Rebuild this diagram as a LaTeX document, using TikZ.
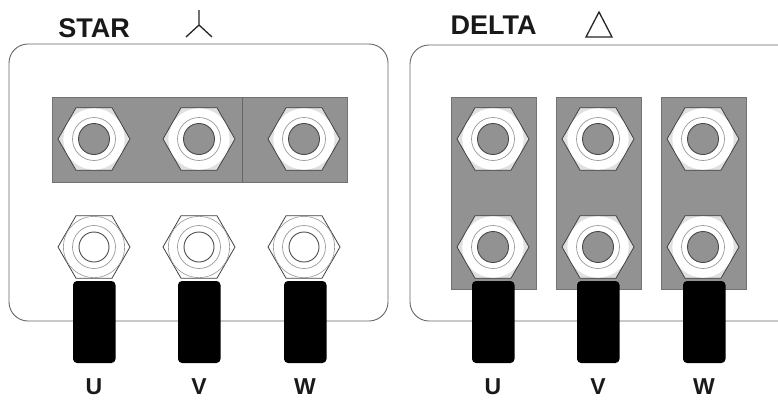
\documentclass[tikz,border=0pt]{standalone}
\usepackage{fontspec}
\setmainfont{Liberation Sans}
\definecolor{plate}{HTML}{929292}
\definecolor{rim}{HTML}{4a4a4a}
\newcommand{\nut}[3]{%
  \begin{scope}[shift={(#1,#2)}]
    \draw[hexline,fill=black!12] (-36,0)--(-18,31.2)--(18,31.2)--(36,0)--(18,-31.2)--(-18,-31.2)--cycle;
    \fill[white] (0,0) circle (30.6);
    \draw[thinring] (0,0) circle (21.5);
    \draw[innerring,fill=#3] (0,0) circle (15.5);
  \end{scope}}
\newcommand{\plainnut}[2]{%
  \begin{scope}[shift={(#1,#2)}]
    \draw[hexline,fill=white] (-36,0)--(-18,31.2)--(18,31.2)--(36,0)--(18,-31.2)--(-18,-31.2)--cycle;
    \draw[outerring,fill=white] (0,0) circle (30.6);
    \draw[thinring] (0,0) circle (21.5);
    \draw[innerring] (0,0) circle (15);
  \end{scope}}
\tikzset{
  x=1pt,y=-1pt,
  hexline/.style={draw=black!75,line width=0.8pt},
  outerring/.style={draw=black!40,line width=0.6pt},
  thinring/.style={draw=black!40,line width=0.7pt},
  innerring/.style={draw=rim,line width=0.9pt},
  platebox/.style={fill=plate,draw=black!55,line width=0.6pt},
  housing/.style={draw=black!60,line width=0.9pt,rounded corners=19pt},
  lug/.style={fill=black,rounded corners=4pt},
  lbl/.style={font=\bfseries\fontsize{23}{26}\selectfont,text=black!90,inner sep=0pt,anchor=center},
  ttl/.style={font=\bfseries\fontsize{27}{30}\selectfont,text=black!90,inner sep=0pt,anchor=center},
  symbolline/.style={draw=black!85,line width=1.3pt}
}
\begin{document}
\begin{tikzpicture}
\useasboundingbox (0,0) rectangle (778,399);
\clip (0,0) rectangle (778,399);
\fill[white] (0,0) rectangle (778,399);
% housings
\draw[housing] (9,44) rectangle (388,321);
\draw[housing] (410,45) rectangle (800,321);
% star plates
\draw[platebox] (52,97) rectangle (347,182);
\draw[draw=black!60,line width=0.7pt] (242,97) -- (242,182);
\nut{94}{139}{plate}
\nut{199}{139}{plate}
\nut{304}{139}{plate}
% star lower terminals
\plainnut{94}{247}
\plainnut{199}{247}
\plainnut{304}{247}
% delta plates
\draw[platebox] (451,97) rectangle (536,289);
\draw[platebox] (556,97) rectangle (641,289);
\draw[platebox] (661,97) rectangle (746,289);
\nut{493}{139}{plate}
\nut{598}{139}{plate}
\nut{703}{139}{plate}
\nut{493}{247}{plate}
\nut{598}{247}{plate}
\nut{703}{247}{plate}
% lugs
\foreach \lx in {73,178,284,472,577,683}
  \fill[lug] (\lx,281) rectangle (\lx+42.5,363);
% titles
\node[ttl] (star) at (94,28) {STAR};
\node[ttl] (delta) at (493.5,25.5) {DELTA};
\draw[symbolline] (199,10) -- (199,25) (199,25) -- (186,37) (199,25) -- (212,37);
\draw[symbolline,line join=miter] (599,12) -- (586,37) -- (612,37) -- cycle;
% terminal labels
\node[lbl] (u1) at (94,387) {U};
\node[lbl] (v1) at (199,387) {V};
\node[lbl] (w1) at (305,387) {W};
\node[lbl] (u2) at (493,387) {U};
\node[lbl] (v2) at (598,387) {V};
\node[lbl] (w2) at (704,387) {W};
\end{tikzpicture}
\end{document}
